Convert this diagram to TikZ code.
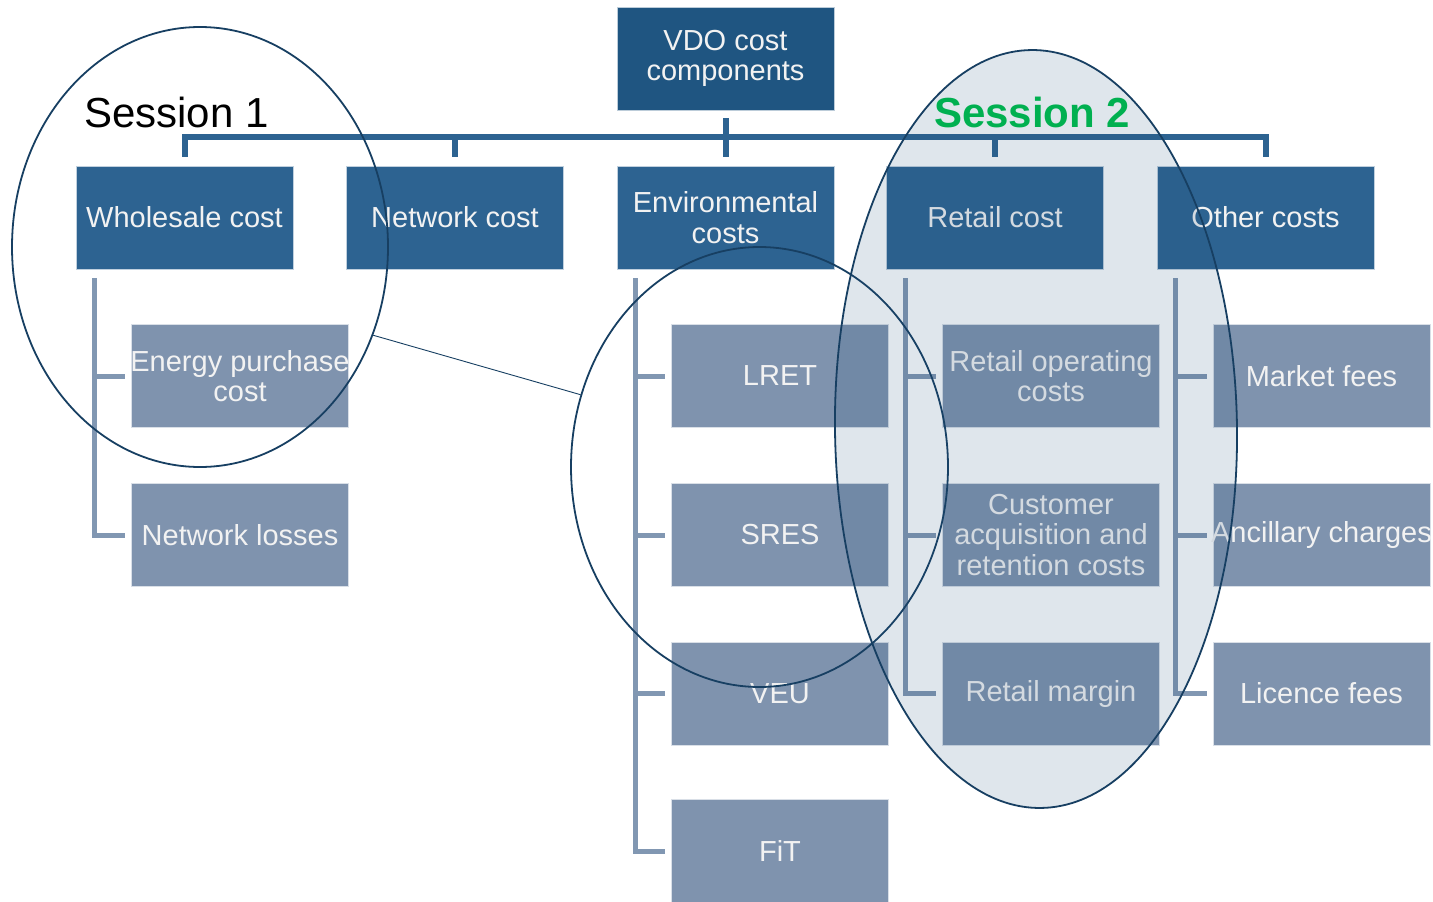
\documentclass[tikz,border=0pt]{standalone}
\usepackage{fontspec}
\setmainfont{Liberation Sans}
\usetikzlibrary{shapes.geometric}
\definecolor{cTop}{HTML}{1F5581}
\definecolor{cMid}{HTML}{2D6391}
\definecolor{cLow}{HTML}{7F93AE}
\definecolor{cConA}{HTML}{2D6391}
\definecolor{cConB}{HTML}{8197B2}
\definecolor{cRing}{HTML}{173F62}
\definecolor{cVeil}{HTML}{1F4E79}
\definecolor{cGreen}{HTML}{00B050}
\definecolor{cTxt}{HTML}{F2F2F2}
\tikzset{
  boxbase/.style={rectangle, minimum width=217pt, minimum height=103pt, inner sep=0pt,
    text=cTxt, align=center, font=\fontsize{29}{30.5}\selectfont, line width=0.8pt},
  topbox/.style={boxbase, fill=cTop, draw=white!70!cTop},
  midbox/.style={boxbase, fill=cMid, draw=white!70!cMid},
  lowbox/.style={boxbase, fill=cLow, draw=white!70!cLow},
  conA/.style={draw=cConA, line width=6pt},
  conB/.style={draw=cConB, line width=5pt},
  ring/.style={ellipse, draw=cRing, line width=1.8pt, inner sep=0pt},
  seslabel/.style={anchor=base west, inner sep=0pt, font=\fontsize{42}{42}\selectfont}
}
\begin{document}
\begin{tikzpicture}[x=1pt, y=-1pt]
\useasboundingbox[fill=white] (0,0) rectangle (1433,902);

% top
\node[topbox] (vdo) at (725.5,58.5) {VDO cost\\components};
% level 2
\node[midbox] (ws)  at (184.5,217.5) {Wholesale cost};
\node[midbox] (net) at (455,217.5) {Network cost};
\node[midbox] (env) at (725.5,217.5) {Environmental\\costs};
\node[midbox] (ret) at (995,217.5) {Retail cost};
\node[midbox] (oth) at (1265.5,217.5) {Other costs};
% level 3
\node[lowbox] (epc) at (240,376) {\makebox[0pt]{Energy purchase}\\cost};
\node[lowbox] (nl)  at (240,535) {Network losses};
\node[lowbox] (lret) at (780,376) {LRET};
\node[lowbox] (sres) at (780,535) {SRES};
\node[lowbox] (veu)  at (780,693.5) {VEU};
\node[lowbox] (fit)  at (780,851) {FiT};
\node[lowbox] (roc) at (1051,376) {Retail operating\\costs};
\node[lowbox] (car) at (1051,535) {Customer\\acquisition and\\retention costs};
\node[lowbox] (rm)  at (1051,693.5) {Retail margin};
\node[lowbox] (mf)  at (1321.5,376) {Market fees};
\node[lowbox] (ac)  at (1321.5,535) {\makebox[0pt]{Ancillary charges}};
\node[lowbox] (lf)  at (1321.5,693.5) {Licence fees};

% top connectors
\coordinate (hub) at ([yshift=-27pt]vdo.south);
\draw[conA] ([yshift=-8pt]vdo.south) -- ([yshift=-47pt]vdo.south);
\draw[conA] ([yshift=9pt]ws.north) |- (hub) -| ([yshift=9pt]oth.north);
\draw[conA] ([yshift=9pt]net.north) |- (hub);
\draw[conA] ([yshift=9pt]env.north) |- (hub);
\draw[conA] ([yshift=9pt]ret.north) |- (hub);

% lower connectors
\coordinate (wsv) at ([xshift=19pt,yshift=-9pt]ws.south west);
\draw[conB] (wsv) |- ([xshift=-6pt]nl.west);
\draw[conB] (wsv |- epc.west) -- ([xshift=-6pt]epc.west);

\coordinate (envv) at ([xshift=19pt,yshift=-9pt]env.south west);
\draw[conB] (envv) |- ([xshift=-6pt]fit.west);
\draw[conB] (envv |- lret.west) -- ([xshift=-6pt]lret.west);
\draw[conB] (envv |- sres.west) -- ([xshift=-6pt]sres.west);
\draw[conB] (envv |- veu.west) -- ([xshift=-6pt]veu.west);

\coordinate (retv) at ([xshift=19pt,yshift=-9pt]ret.south west);
\draw[conB] (retv) |- ([xshift=-6pt]rm.west);
\draw[conB] (retv |- roc.west) -- ([xshift=-6pt]roc.west);
\draw[conB] (retv |- car.west) -- ([xshift=-6pt]car.west);

\coordinate (othv) at ([xshift=19pt,yshift=-9pt]oth.south west);
\draw[conB] (othv) |- ([xshift=-6pt]lf.west);
\draw[conB] (othv |- mf.west) -- ([xshift=-6pt]mf.west);
\draw[conB] (othv |- ac.west) -- ([xshift=-6pt]ac.west);

% session rings
\node[ring, minimum width=376pt, minimum height=440pt] (s1) at (200,247) {};
\node[ring, minimum width=377pt, minimum height=440pt] (envring) at (759.5,467) {};
\node[ring, minimum width=402pt, minimum height=758pt, rotate=0.76,
      fill=cVeil, fill opacity=0.14] (s2) at (1036,429) {};
\draw[draw=cRing, line width=0.9pt] (s1.-27.6) -- (envring.158.7);

% labels
\node[seslabel, text=black] (lab1) at (84,127) {Session 1};
\node[seslabel, text=cGreen, font=\fontsize{42}{42}\selectfont\bfseries] (lab2) at (934,127) {Session 2};
\end{tikzpicture}
\end{document}
